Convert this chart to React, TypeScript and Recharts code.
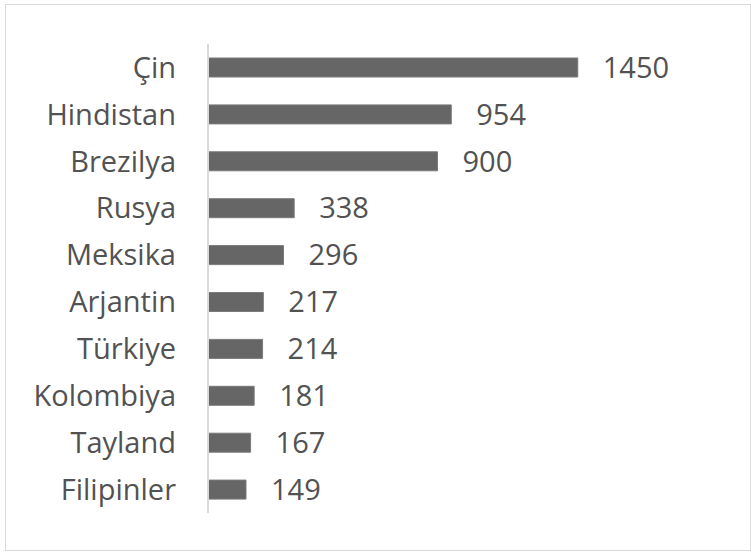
import { BarChart, Bar, XAxis, YAxis, LabelList } from "recharts";

const countries = [
    "Çin",
    "Hindistan",
    "Brezilya",
    "Rusya",
    "Meksika",
    "Arjantin",
    "Türkiye",
    "Kolombiya",
    "Tayland",
    "Filipinler",
];

const values = [1450, 954, 900, 338, 296, 217, 214, 181, 167, 149];

const data = countries.map((name, i) => ({ name, value: values[i] }));

const textColor = "#525252";
const font = "'Open Sans', sans-serif";

export default function App() {
    return (
        <div
            style={{
                position: "absolute",
                left: 0,
                top: 0,
                width: 751,
                height: 553,
                background: "#fff",
                fontFamily: font,
            }}
        >
            <div
                style={{
                    position: "absolute",
                    left: 5,
                    top: 4,
                    width: 746,
                    height: 547,
                    border: "1px solid #d9d9d9",
                    boxSizing: "border-box",
                }}
            />
            <BarChart
                layout="vertical"
                width={751}
                height={553}
                data={data}
                margin={{ top: 44, right: 33, bottom: 40, left: 0 }}
                barCategoryGap={14}
                style={{ position: "absolute", left: 0, top: 0 }}
            >
                <XAxis type="number" domain={[0, 2000]} hide />
                <YAxis
                    type="category"
                    dataKey="name"
                    width={208}
                    tickLine={false}
                    tickSize={0}
                    tickMargin={32}
                    axisLine={{ stroke: "#d9d9d9", strokeWidth: 2 }}
                    tick={{ fill: textColor, fontSize: 29, fontFamily: font }}
                    interval={0}
                />
                <Bar
                    dataKey="value"
                    fill="#666666"
                    stroke="#7a7a7a"
                    strokeWidth={1}
                    isAnimationActive={false}
                >
                    <LabelList
                        dataKey="value"
                        position="right"
                        offset={25}
                        fill={textColor}
                        fontSize={29}
                        fontFamily={font}
                    />
                </Bar>
            </BarChart>
        </div>
    );
}
